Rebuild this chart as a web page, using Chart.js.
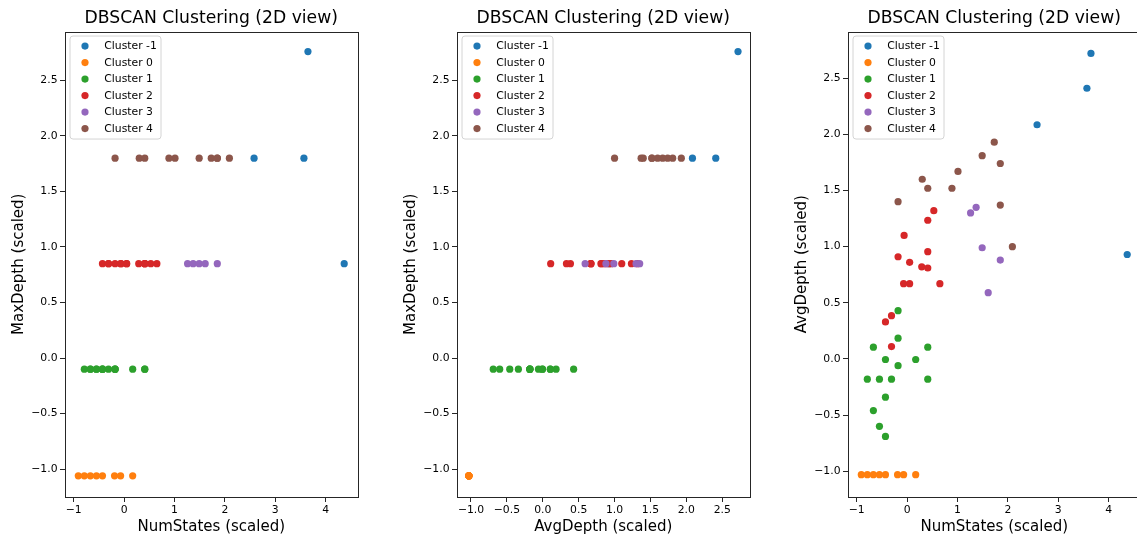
<!DOCTYPE html>
<html>
<head>
<meta charset="utf-8">
<script src="https://cdn.jsdelivr.net/npm/chart.js@4.4.1/dist/chart.umd.min.js"></script>
<style>
  html, body { margin: 0; padding: 0; background: #fff; overflow: hidden; }
  body { width: 1137px; height: 536px; position: relative; }
  .panel { position: absolute; top: 0; height: 536px; overflow: hidden; }
  canvas { position: absolute; top: 0; left: 0; }
</style>
</head>
<body>
<div class="panel" style="left:5px;width:360px"><canvas id="c1" width="360" height="536"></canvas></div>
<div class="panel" style="left:397px;width:360px"><canvas id="c2" width="360" height="536"></canvas></div>
<div class="panel" style="left:788px;width:349px"><canvas id="c3" width="360" height="536"></canvas></div>
<script>
'use strict';

// each point: [numStates, maxDepth, avgDepth] (scaled)
const clusterNoise = [[3.65, 2.76, 2.72], [3.57, 1.80, 2.41], [2.58, 1.80, 2.085], [4.37, 0.85, 0.93]];
const cluster0 = [[-0.91, -1.06, -1.03], [-0.79, -1.06, -1.03], [-0.67, -1.06, -1.03], [-0.55, -1.06, -1.03],
                  [-0.43, -1.06, -1.03], [-0.19, -1.06, -1.03], [-0.07, -1.06, -1.03], [0.17, -1.06, -1.03]];
const cluster1 = [[-0.18, -0.10, 0.43], [-0.18, -0.10, 0.185], [-0.67, -0.10, 0.105], [0.41, -0.10, 0.105],
                  [-0.43, -0.10, -0.005], [0.17, -0.10, -0.005], [-0.18, -0.10, -0.06], [-0.79, -0.10, -0.18],
                  [-0.55, -0.10, -0.18], [-0.31, -0.10, -0.18], [0.41, -0.10, -0.18], [-0.43, -0.10, -0.34],
                  [-0.67, -0.10, -0.46], [-0.55, -0.10, -0.60], [-0.43, -0.10, -0.69]];
const cluster2 = [[0.53, 0.85, 1.32], [0.41, 0.85, 1.235], [-0.06, 0.85, 1.10], [0.41, 0.85, 0.955],
                  [-0.18, 0.85, 0.91], [0.05, 0.85, 0.86], [0.29, 0.85, 0.82], [0.41, 0.85, 0.81],
                  [-0.07, 0.85, 0.67], [0.05, 0.85, 0.67], [0.65, 0.85, 0.67], [-0.31, 0.85, 0.385],
                  [-0.43, 0.85, 0.33], [-0.31, 0.85, 0.11]];
const cluster3 = [[1.26, 0.85, 1.30], [1.37, 0.85, 1.35], [1.49, 0.85, 0.99], [1.61, 0.85, 0.59], [1.85, 0.85, 0.88]];
const cluster4 = [[1.73, 1.80, 1.93], [1.49, 1.80, 1.81], [1.85, 1.80, 1.74], [1.01, 1.80, 1.67], [0.30, 1.80, 1.60],
                  [0.41, 1.80, 1.52], [0.89, 1.80, 1.52], [-0.18, 1.80, 1.40], [1.85, 1.80, 1.37], [2.09, 1.80, 1.00]];

const clusters = [clusterNoise, cluster0, cluster1, cluster2, cluster3, cluster4];
const clusterLabels = ['Cluster -1', 'Cluster 0', 'Cluster 1', 'Cluster 2', 'Cluster 3', 'Cluster 4'];
const colors = ['#1f77b4', '#ff7f0e', '#2ca02c', '#d62728', '#9467bd', '#8c564b'];

const intTicks = [-1, 0, 1, 2, 3, 4];
const halfTicks = [-1.0, -0.5, 0.0, 0.5, 1.0, 1.5, 2.0, 2.5];
const axisNames = ['NumStates (scaled)', 'MaxDepth (scaled)', 'AvgDepth (scaled)'];

const FONT = '"DejaVu Sans", sans-serif';

function fmt(v, dec) {
    return Number(v).toFixed(dec).replace('-', '\u2212');
}

const framePlugin = {
    id: 'frame',
    afterDraw(chart) {
        const ctx = chart.ctx, a = chart.chartArea;
        ctx.save();
        ctx.strokeStyle = '#262626';
        ctx.lineWidth = 1;
        ctx.strokeRect(Math.round(a.left) + 0.5, Math.round(a.top) + 0.5,
            Math.round(a.right) - Math.round(a.left), Math.round(a.bottom) - Math.round(a.top));

        // legend in the upper left corner of the axes
        const x0 = a.left + 5, y0 = a.top + 4.5, w = 91, h = 103, r = 3;
        ctx.beginPath();
        ctx.moveTo(x0 + r, y0);
        ctx.arcTo(x0 + w, y0, x0 + w, y0 + h, r);
        ctx.arcTo(x0 + w, y0 + h, x0, y0 + h, r);
        ctx.arcTo(x0, y0 + h, x0, y0, r);
        ctx.arcTo(x0, y0, x0 + w, y0, r);
        ctx.closePath();
        ctx.fillStyle = 'rgba(255,255,255,0.8)';
        ctx.fill();
        ctx.strokeStyle = '#d4d4d4';
        ctx.stroke();
        ctx.font = '10.8px ' + FONT;
        ctx.textBaseline = 'middle';
        ctx.textAlign = 'left';
        clusterLabels.forEach((lbl, i) => {
            const cy = a.top + 14.5 + i * 16.5;
            ctx.beginPath();
            ctx.arc(a.left + 20, cy, 3.6, 0, Math.PI * 2);
            ctx.fillStyle = colors[i];
            ctx.fill();
            ctx.fillStyle = '#000';
            ctx.fillText(lbl, a.left + 39.3, cy + 0.3);
        });
        ctx.restore();
    }
};

function axis(title, min, max, ticks, dec, horizontal) {
    return {
        type: 'linear',
        min: min,
        max: max,
        afterBuildTicks: s => { s.ticks = ticks.map(v => ({ value: v })); },
        afterFit: s => { if (horizontal) { s.height = 39; } else { s.width = 60; } },
        ticks: {
            font: { family: FONT, size: 10.8 },
            color: '#000',
            padding: horizontal ? 2 : 2.5,
            maxRotation: 0,
            autoSkip: false,
            callback: v => fmt(v, dec)
        },
        grid: { display: true, drawOnChartArea: false, drawTicks: true, tickLength: 5, tickWidth: 1, tickColor: '#262626' },
        border: { display: false },
        title: {
            display: true,
            text: title,
            font: { family: FONT, size: 15 },
            color: '#000',
            padding: horizontal ? { top: 2, bottom: 0 } : { top: 4.8, bottom: 2 }
        }
    };
}

function makeChart(id, xi, yi, xr, yr, xTicks, xDec) {
    const datasets = clusters.map((pts, i) => ({
        label: clusterLabels[i],
        data: pts.map(p => ({ x: p[xi], y: p[yi] })),
        backgroundColor: colors[i],
        borderColor: colors[i],
        borderWidth: 0,
        pointRadius: 3.6,
        pointHoverRadius: 3.6,
        order: 5 - i
    }));
    return new Chart(document.getElementById(id), {
        type: 'scatter',
        data: { datasets: datasets },
        options: {
            responsive: false,
            animation: false,
            events: [],
            layout: { padding: { left: 0, right: 7.5, top: 0, bottom: 0 } },
            scales: {
                x: axis(axisNames[xi], xr[0], xr[1], xTicks, xDec, true),
                y: axis(axisNames[yi], yr[0], yr[1], halfTicks, 1, false)
            },
            plugins: {
                legend: { display: false },
                tooltip: { enabled: false },
                title: {
                    display: true,
                    text: 'DBSCAN Clustering (2D view)',
                    font: { family: FONT, size: 17.2, weight: 'normal' },
                    color: '#000',
                    padding: { top: 8.5, bottom: 2.4 },
                    fullSize: false
                }
            }
        },
        plugins: [framePlugin]
    });
}

makeChart('c1', 0, 1, [-1.174, 4.634], [-1.251, 2.94], intTicks, 0);
makeChart('c2', 2, 1, [-1.195, 2.88], [-1.251, 2.94], halfTicks, 1);
makeChart('c3', 0, 2, [-1.174, 4.634], [-1.229, 2.915], intTicks, 0);
</script>
</body>
</html>
